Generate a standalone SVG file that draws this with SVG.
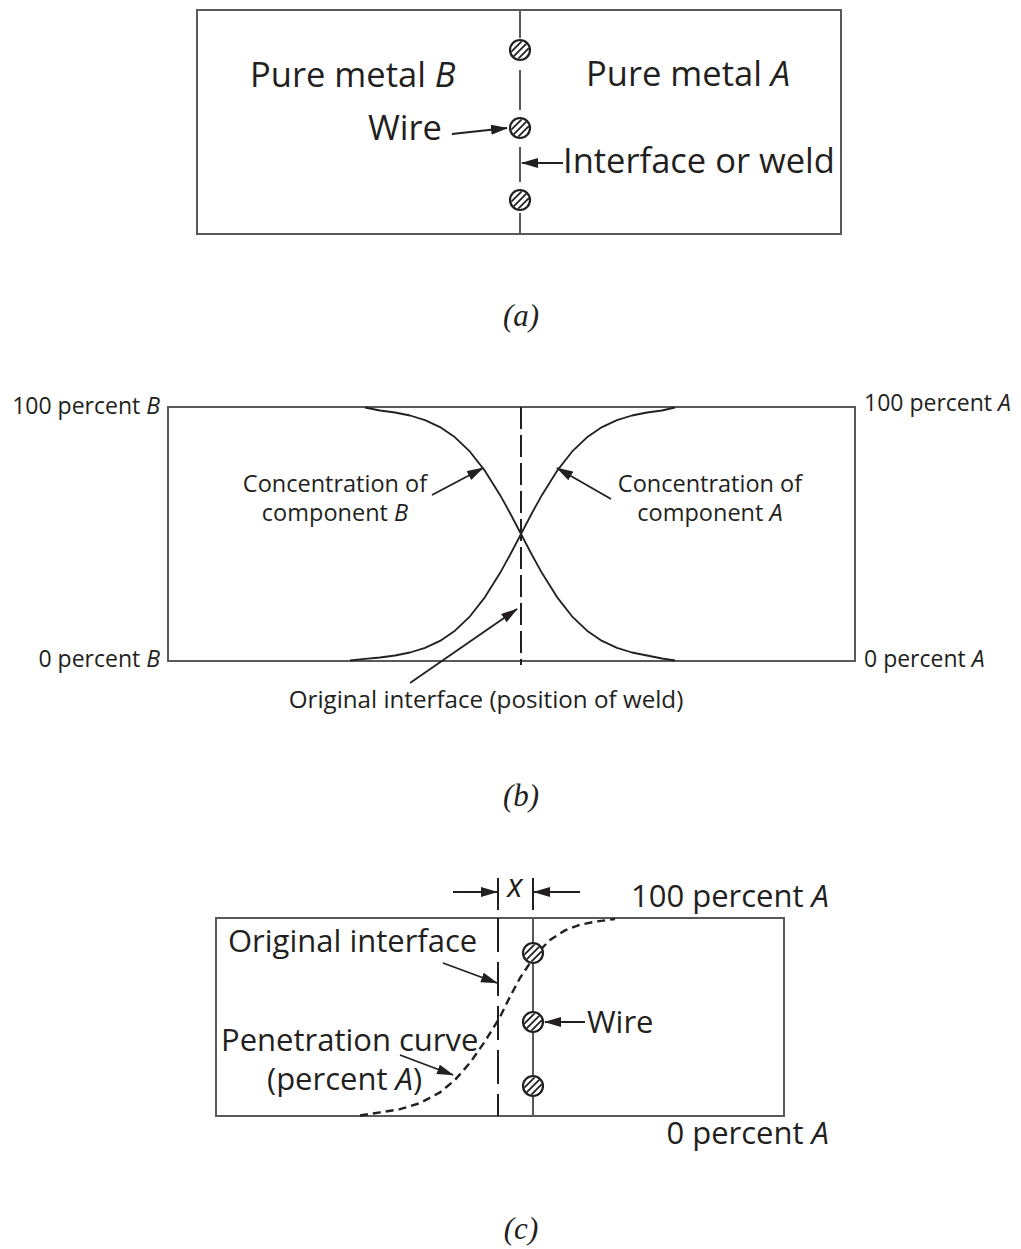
<svg xmlns="http://www.w3.org/2000/svg" width="1021" height="1249" viewBox="0 0 1021 1249">
<style>
.t{font-family:"Open Sans","Noto Sans",sans-serif;fill:#231f20}
.a{font-size:34.5px}
.b{font-size:23px}
.bl{font-size:23.5px}
.bw{font-size:24.2px}
.c{font-size:31px}
.i{font-style:italic}
.cap{font-family:"Liberation Serif","Times New Roman",serif;font-style:italic;font-size:31px;fill:#231f20}
.box{fill:none;stroke:#58595b;stroke-width:2}
.gl{stroke:#58595b;stroke-width:2;fill:none}
.curve{fill:none;stroke:#231f20;stroke-width:1.8;stroke-linejoin:round}
.arr{stroke:#231f20;stroke-width:1.8;fill:none;marker-end:url(#ah)}
</style>
<defs>
<marker id="ah" markerUnits="userSpaceOnUse" markerWidth="17" markerHeight="10" refX="16" refY="5" orient="auto">
<path d="M0,0 L17,5 L0,10 z" fill="#231f20"/>
</marker>
<clipPath id="cc"><circle cx="0" cy="0" r="9"/></clipPath>
<g id="wire">
<circle cx="0" cy="0" r="10" fill="#fff" stroke="#231f20" stroke-width="2.2"/>
<g clip-path="url(#cc)" stroke="#231f20" stroke-width="1.8">
<line x1="-13.5" y1="6.5" x2="6.5" y2="-13.5"/>
<line x1="-10" y1="10" x2="10" y2="-10"/>
<line x1="-6.5" y1="13.5" x2="13.5" y2="-6.5"/>
</g>
</g>
</defs>
<rect width="1021" height="1249" fill="#fff"/>

<g id="panel-a">
<rect class="box" x="197" y="10" width="644" height="224"/>
<path class="gl" d="M520,10 V38 M520,70 V110 M520,147 V182 M520,213 V234"/>
<use href="#wire" x="520" y="50"/>
<use href="#wire" x="520" y="128"/>
<use href="#wire" x="520" y="200"/>
<text class="t a" x="250" y="87">Pure metal <tspan class="i">B</tspan></text>
<text class="t a" x="586" y="86">Pure metal <tspan class="i">A</tspan></text>
<text class="t a" x="442" y="140" text-anchor="end">Wire</text>
<text class="t a" x="563" y="173">Interface or weld</text>
<text class="cap" x="521" y="326" text-anchor="middle">(a)</text>
</g>

<g id="panel-b">
<path class="box" d="M168,407 H855 V661 H168 Z" stroke-width="1.8"/>
<path d="M521,407 V665" fill="none" stroke="#231f20" stroke-width="2" stroke-dasharray="22 6"/>
<path id="curve-B" class="curve" d="M365,407.5 L380,410.5 L395,412.5 L410,415.5 L425,420.1 L440,427.1 L455,437.3 L470,451.7 L485,470.9 L500,494.9 L510,513 L521,534 L532,555 L542,573.1 L557,597.1 L572,616.3 L587,630.7 L602,640.9 L617,647.9 L632,652.5 L647,655.5 L662,658.5 L675,660.5"/>
<path id="curve-A" class="curve" d="M350,660.5 L365,658.8 L380,657.5 L395,655.5 L410,652.5 L425,647.9 L440,640.9 L455,630.7 L470,616.3 L485,597.1 L500,573.1 L510,555 L521,534 L532,513 L542,494.9 L557,470.9 L572,451.7 L587,437.3 L602,427.1 L617,420.1 L632,415.5 L647,412.5 L662,410.5 L675,407.5"/>
<text class="t b" x="160" y="414" text-anchor="end">100 percent <tspan class="i">B</tspan></text>
<text class="t b" x="160" y="667" text-anchor="end">0 percent <tspan class="i">B</tspan></text>
<text class="t b" x="864" y="411">100 percent <tspan class="i">A</tspan></text>
<text class="t b" x="864" y="667">0 percent <tspan class="i">A</tspan></text>
<text class="t bl" x="335" y="492" text-anchor="middle">Concentration of</text>
<text class="t bl" x="335" y="521" text-anchor="middle">component <tspan class="i">B</tspan></text>
<text class="t bl" x="710" y="492" text-anchor="middle">Concentration of</text>
<text class="t bl" x="710" y="521" text-anchor="middle">component <tspan class="i">A</tspan></text>
<text class="t bw" x="486" y="708" text-anchor="middle">Original interface (position of weld)</text>
<text class="cap" x="521" y="806" text-anchor="middle">(b)</text>
</g>

<g id="panel-c">
<rect class="box" x="216" y="918" width="568" height="198"/>
<path d="M498,918 V1116" fill="none" stroke="#231f20" stroke-width="2" stroke-dasharray="34 10"/>
<path class="gl" d="M533,918 V943 M533,963 V1012 M533,1032 V1075 M533,1097 V1116"/>
<path d="M498,878 V910 M533,878 V910" stroke="#231f20" stroke-width="2" fill="none"/>
<path id="penetration" d="M360,1115.5 L380,1112.4 L400,1109.2 L420,1103.1 L440,1092.4 L455,1079.9 L470,1062.8 L485,1041.3 L500,1017 L510,996.7 L520,978 L535,955.4 L550,939.9 L565,930.4 L580,924.8 L595,921.7 L615,919" fill="none" stroke="#231f20" stroke-width="2.4" stroke-dasharray="8 5"/>
<use href="#wire" x="533" y="953"/>
<use href="#wire" x="533" y="1022"/>
<use href="#wire" x="533" y="1086"/>
<text class="t i" x="515" y="897" text-anchor="middle" style="font-size:32px">x</text>
<text class="t c" x="829" y="907" text-anchor="end">100 percent <tspan class="i">A</tspan></text>
<text class="t c" x="829" y="1144" text-anchor="end">0 percent <tspan class="i">A</tspan></text>
<text class="t c" x="228" y="952">Original interface</text>
<text class="t c" x="221" y="1051">Penetration curve</text>
<text class="t c" x="267" y="1090">(percent <tspan class="i">A</tspan>)</text>
<text class="t c" x="587" y="1033">Wire</text>
<text class="cap" x="521" y="1239" text-anchor="middle">(c)</text>
</g>

<g id="connectors">
<line class="arr" x1="452" y1="134" x2="507" y2="128"/>
<line class="arr" x1="563" y1="163" x2="522" y2="163"/>
<line class="arr" x1="432" y1="495" x2="483" y2="468"/>
<line class="arr" x1="611" y1="499" x2="557" y2="468"/>
<line class="arr" x1="410" y1="683" x2="517" y2="609"/>
<line class="arr" x1="453" y1="892" x2="497" y2="892"/>
<line class="arr" x1="580" y1="892" x2="534" y2="892"/>
<line class="arr" x1="443" y1="963" x2="497" y2="983"/>
<line class="arr" x1="400" y1="1055" x2="453" y2="1075"/>
<line class="arr" x1="585" y1="1022" x2="545" y2="1022"/>
</g>
</svg>
